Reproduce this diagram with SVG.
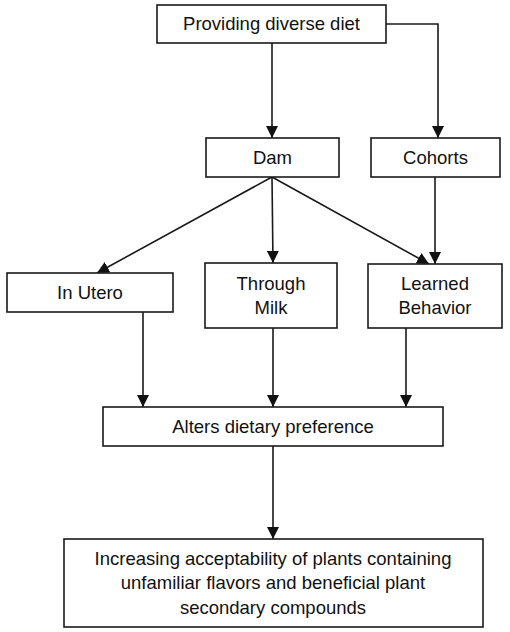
<svg xmlns="http://www.w3.org/2000/svg" width="510" height="632" viewBox="0 0 510 632">
<style>
.box{fill:#fff;stroke:#1a1a1a;stroke-width:1.6}
.t{font-family:"Liberation Sans",Arial,sans-serif;font-size:18.5px;fill:#111;text-anchor:middle}
.c{fill:none;stroke:#1a1a1a;stroke-width:1.6}
</style>
<defs>
<marker id="ah" markerUnits="userSpaceOnUse" markerWidth="12" markerHeight="12" viewBox="0 0 12 12" refX="12" refY="6" orient="auto">
<path d="M0,0 L12,6 L0,12 Z" fill="#111"/>
</marker>
</defs>
<rect width="510" height="632" fill="#fff"/>
<g id="connectors">
<path class="c" d="M272,43 V138" marker-end="url(#ah)"/>
<path class="c" d="M386,24 H438 V138" marker-end="url(#ah)"/>
<path class="c" d="M272,177 L97,273" marker-end="url(#ah)"/>
<path class="c" d="M272,177 L273,263" marker-end="url(#ah)"/>
<path class="c" d="M272,177 L429,264" marker-end="url(#ah)"/>
<path class="c" d="M435,177 V264" marker-end="url(#ah)"/>
<path class="c" d="M143,312 V407" marker-end="url(#ah)"/>
<path class="c" d="M273,328 V407" marker-end="url(#ah)"/>
<path class="c" d="M406,328 V407" marker-end="url(#ah)"/>
<path class="c" d="M273,446 V539" marker-end="url(#ah)"/>
</g>
<g id="n-diet"><rect class="box" x="157" y="5" width="229" height="38"/><text class="t" x="271.5" y="30">Providing diverse diet</text></g>
<g id="n-dam"><rect class="box" x="206" y="138" width="133" height="39"/><text class="t" x="272.5" y="164">Dam</text></g>
<g id="n-cohorts"><rect class="box" x="371" y="138" width="129" height="39"/><text class="t" x="435.5" y="164">Cohorts</text></g>
<g id="n-utero"><rect class="box" x="7" y="273" width="166" height="39"/><text class="t" x="90" y="299">In Utero</text></g>
<g id="n-milk"><rect class="box" x="205" y="263" width="132" height="65"/><text class="t" x="271" y="290">Through</text><text class="t" x="271" y="314">Milk</text></g>
<g id="n-learned"><rect class="box" x="368" y="264" width="134" height="64"/><text class="t" x="435" y="290">Learned</text><text class="t" x="435" y="314">Behavior</text></g>
<g id="n-alters"><rect class="box" x="103" y="407" width="340" height="39"/><text class="t" x="273" y="433">Alters dietary preference</text></g>
<g id="n-result"><rect class="box" x="64" y="539" width="419" height="88"/><text class="t" x="273" y="565">Increasing acceptability of plants containing</text><text class="t" x="273" y="589">unfamiliar flavors and beneficial plant</text><text class="t" x="273" y="614">secondary compounds</text></g>
</svg>
